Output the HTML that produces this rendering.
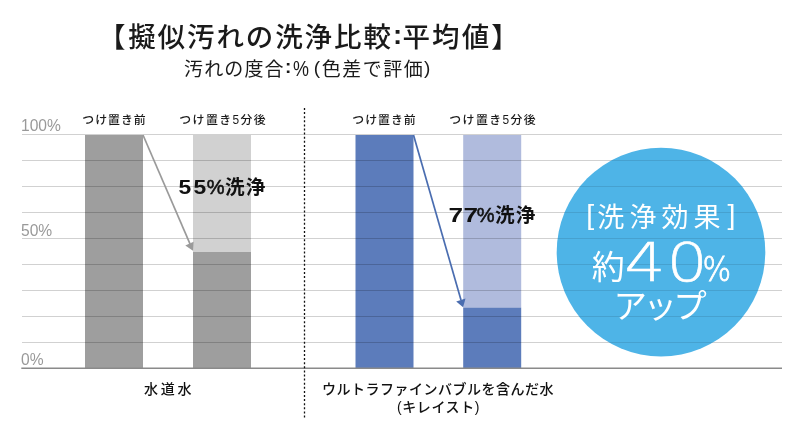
<!DOCTYPE html>
<html lang="ja">
<head>
<meta charset="utf-8">
<title>擬似汚れの洗浄比較</title>
<style>
html,body{margin:0;padding:0;background:#fff;}
body{width:800px;height:432px;overflow:hidden;}
svg{display:block;}
text{font-family:"Liberation Sans","Noto Sans CJK JP",sans-serif;}
.t{fill:#1a1a1a;}
.ax{fill:#999;font-size:15.6px;}
.lb{fill:#1a1a1a;font-size:11.9px;font-weight:500;}
.pc{fill:#111;font-size:19px;font-weight:bold;}
.bt{fill:#111;font-size:14px;font-weight:500;}
.w{fill:#fff;}
.dj{font-family:"DejaVu Sans","Liberation Sans",sans-serif;font-weight:200;}
</style>
</head>
<body>
<svg width="800" height="432" viewBox="0 0 800 432">
<rect width="800" height="432" fill="#fff"/>

<!-- bars -->
<rect x="85" y="135" width="58" height="233" fill="#9e9e9e"/>
<rect x="193" y="135" width="58" height="117" fill="#d1d1d1"/>
<rect x="193" y="252" width="58" height="116" fill="#9e9e9e"/>
<rect x="355.5" y="135" width="58" height="233" fill="#5c7cbb"/>
<rect x="463.2" y="135" width="58" height="173" fill="#b0bbdd"/>
<rect x="463.2" y="307.8" width="58" height="60.2" fill="#5c7cbb"/>

<!-- grid -->
<defs><clipPath id="cc"><circle cx="661" cy="252.1" r="104.3"/></clipPath></defs>
<g stroke="#000" stroke-opacity="0.18" stroke-width="1">
<line x1="22" x2="782" y1="134.5" y2="134.5"/>
<line x1="22" x2="782" y1="160.5" y2="160.5"/>
<line x1="22" x2="782" y1="186.5" y2="186.5"/>
<line x1="22" x2="782" y1="212.5" y2="212.5"/>
<line x1="22" x2="782" y1="238.5" y2="238.5"/>
<line x1="22" x2="782" y1="264.5" y2="264.5"/>
<line x1="22" x2="782" y1="290.5" y2="290.5"/>
<line x1="22" x2="782" y1="316.5" y2="316.5"/>
<line x1="22" x2="782" y1="342.5" y2="342.5"/>
</g>

<!-- circle -->
<circle cx="661" cy="252.1" r="104.3" fill="#4eb4e7"/>
<g stroke="#000" stroke-opacity="0.1" stroke-width="1" clip-path="url(#cc)">
<line x1="22" x2="782" y1="134.5" y2="134.5"/>
<line x1="22" x2="782" y1="160.5" y2="160.5"/>
<line x1="22" x2="782" y1="186.5" y2="186.5"/>
<line x1="22" x2="782" y1="212.5" y2="212.5"/>
<line x1="22" x2="782" y1="238.5" y2="238.5"/>
<line x1="22" x2="782" y1="264.5" y2="264.5"/>
<line x1="22" x2="782" y1="290.5" y2="290.5"/>
<line x1="22" x2="782" y1="316.5" y2="316.5"/>
<line x1="22" x2="782" y1="342.5" y2="342.5"/>
</g>
<line x1="21.3" x2="782" y1="368.2" y2="368.2" stroke="#8a8a8a" stroke-width="1.4"/>

<!-- dotted divider -->
<line x1="304.5" x2="304.5" y1="108" y2="418" stroke="#111" stroke-width="1.3" stroke-dasharray="2 2.1"/>

<!-- arrows -->
<line x1="143" y1="135" x2="190" y2="243.8" stroke="#9a9a9a" stroke-width="1.7"/>
<polygon points="193,250.7 185.3,245.5 193.6,241.7" fill="#9a9a9a"/>
<line x1="413.5" y1="135" x2="461" y2="300" stroke="#4a6db0" stroke-width="1.7"/>
<polygon points="463.1,307.3 456.2,301.5 465.5,298.5" fill="#4a6db0"/>

<!-- title -->
<text class="t" y="47" font-size="27.5" font-weight="500"><tspan x="98">【</tspan><tspan x="128.2" letter-spacing="1.9">擬似汚れの洗浄比較</tspan><tspan x="393" dy="-3.3" font-weight="bold">:</tspan><tspan x="402.5" dy="3.3" letter-spacing="2.1">平均値】</tspan></text>
<text class="t" y="76" font-size="19"><tspan x="184.1" letter-spacing="1.1">汚れの度合</tspan><tspan x="285" dy="-2.6" font-weight="bold">:</tspan><tspan x="313.7" dy="0.2">(</tspan><tspan x="321.7" dy="2.4" letter-spacing="1.5">色差で評価</tspan><tspan x="424" dy="-2.4">)</tspan></text>

<text class="t" transform="translate(292.9,76) scale(0.885,1.1)" font-size="20.3">%</text>

<!-- axis labels -->
<text class="ax" x="21" y="131.3">100%</text>
<text class="ax" x="21" y="235.6">50%</text>
<text class="ax" x="21" y="365">0%</text>

<!-- bar labels -->
<text class="lb" x="114.5" y="124" text-anchor="middle" letter-spacing="1">つけ置き前</text>
<text class="lb" x="223.2" y="124" text-anchor="middle" letter-spacing="1.4">つけ置き5分後</text>
<text class="lb" x="384.5" y="124" text-anchor="middle" letter-spacing="1">つけ置き前</text>
<text class="lb" x="493.2" y="124" text-anchor="middle" letter-spacing="1.4">つけ置き5分後</text>

<text class="pc" transform="translate(178.5,194) scale(1.09,1)" style="font-size:21px" letter-spacing="2.1">55</text>
<text class="pc" y="194"><tspan x="206.8" font-size="20" font-weight="normal" stroke="#111" stroke-width="0.55">%</tspan><tspan x="224.9" font-size="19.6" letter-spacing="1.3">洗浄</tspan></text>
<text class="pc" transform="translate(448.4,222.4) scale(1.246,1)" style="font-size:21px" letter-spacing="0.36">77</text>
<text class="pc" y="222.4"><tspan x="476.8" font-size="20" font-weight="normal" stroke="#111" stroke-width="0.55">%</tspan><tspan x="494.9" font-size="19.6" letter-spacing="1.3">洗浄</tspan></text>

<!-- bottom labels -->
<text class="bt" x="169.2" y="394.2" text-anchor="middle" letter-spacing="2.8">水道水</text>
<text class="bt" x="438" y="394.3" text-anchor="middle" letter-spacing="0.5">ウルトラファインバブルを含んだ水</text>
<text class="bt" x="438.5" y="411.9" text-anchor="middle" letter-spacing="0.6">(キレイスト)</text>

<!-- circle text -->
<text class="w" y="227" font-size="27" font-weight="400"><tspan x="586.2" font-size="28.5" dy="-3" font-weight="400">[</tspan><tspan x="597.3" dy="3" letter-spacing="5.1">洗浄効果</tspan><tspan x="727.5" font-size="28.5" dy="-3" font-weight="400">]</tspan></text>
<text class="w" x="591.8" y="279.4" font-size="33" font-weight="400">約</text>
<text class="w dj" transform="translate(624.2,281.4) scale(1.225,1)" font-size="53" letter-spacing="0.8" stroke="#fff" stroke-width="0.5">40</text>
<text class="w dj" transform="translate(702.6,281.4) scale(0.9,1)" font-size="33.5" stroke="#fff" stroke-width="0.8">%</text>
<text class="w" x="613.5" y="318" font-size="33.5" font-weight="400" letter-spacing="-3.6">アップ</text>
</svg>
</body>
</html>
